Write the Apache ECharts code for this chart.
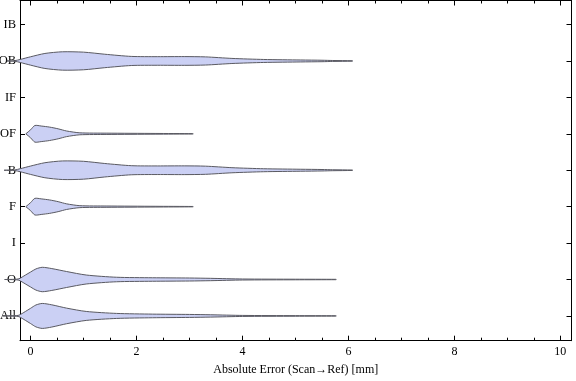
<!DOCTYPE html>
<html><head><meta charset="utf-8">
<script src="https://cdn.jsdelivr.net/npm/echarts@6/dist/echarts.min.js"></script>
<style>html,body{margin:0;padding:0;background:#fff}#c{width:576px;height:381px}</style>
</head><body><div id="c"></div>
<script>
// categories bottom -> top
const categories = ['All','O','I','F','B','OF','IF','OB','IB'];
// violin profiles: [x value, half-width in category units]
const violinAll = [[-0.52,0],[-0.3,0.006],[-0.22,0.02],[-0.1,0.12],[0.0,0.21],[0.1,0.3],[0.22,0.343],[0.4,0.305],[0.68,0.214],[1.05,0.123],[1.62,0.069],[2.3,0.05],[3.0,0.041],[3.4,0.032],[4.0,0.014],[5.0,0.008],[5.76,0.005],[5.77,0]];
const violinO   = [[-0.49,0],[-0.3,0.006],[-0.22,0.02],[-0.1,0.12],[0.0,0.206],[0.1,0.29],[0.22,0.335],[0.4,0.30],[0.68,0.219],[1.05,0.123],[1.62,0.062],[2.3,0.048],[3.0,0.041],[3.4,0.032],[4.0,0.014],[5.0,0.008],[5.76,0.005],[5.77,0]];
const violinI   = [];
const violinF   = [[-0.09,0],[0.0,0.11],[0.08,0.228],[0.2,0.214],[0.36,0.184],[0.52,0.137],[0.68,0.077],[0.93,0.027],[1.44,0.018],[2.35,0.01],[3.06,0.005],[3.07,0]];
const violinB   = [[-0.5,0],[-0.3,0.008],[-0.2,0.04],[0.0,0.115],[0.27,0.206],[0.6,0.255],[1.0,0.245],[1.4,0.185],[1.9,0.125],[2.4,0.118],[2.9,0.12],[3.3,0.112],[3.8,0.07],[4.4,0.041],[5.1,0.027],[5.5,0.02],[5.7,0.013],[6.07,0.006],[6.08,0]];
const violinOF  = [[-0.09,0],[0.0,0.11],[0.08,0.228],[0.2,0.214],[0.36,0.184],[0.52,0.137],[0.68,0.077],[0.93,0.027],[1.44,0.018],[2.35,0.01],[3.06,0.005],[3.07,0]];
const violinIF  = [];
const violinOB  = [[-0.45,0],[-0.3,0.008],[-0.2,0.04],[0.0,0.115],[0.27,0.206],[0.6,0.252],[1.0,0.242],[1.4,0.185],[1.9,0.125],[2.4,0.118],[2.9,0.12],[3.3,0.112],[3.8,0.07],[4.4,0.041],[5.1,0.027],[5.5,0.02],[5.7,0.013],[6.07,0.006],[6.08,0]];
const violinIB  = [];
const profiles = [violinAll, violinO, violinI, violinF, violinB, violinOF, violinIF, violinOB, violinIB];

const xMajorTicks = [0,2,4,6,8,10];
const xMinorTicks = [0.5,1,1.5,2.5,3,3.5,4.5,5,5.5,6.5,7,7.5,8.5,9,9.5];
const yTicks = [0,1,2,3,4,5,6,7,8];

const font = 'Liberation Serif';
const chart = echarts.init(document.getElementById('c'), null, {renderer:'canvas'});

function xAxisDef(pos, ticks, len, labels, name, showLine) {
  return {
    type:'value', position:pos, min:-0.2, max:10.21,
    axisLine:{show:showLine, onZero:false, lineStyle:{color:'#000', width:1}},
    axisTick:{show:true, inside:true, length:len, customValues:ticks, lineStyle:{color:'#000', width:1}},
    axisLabel:{show:labels, customValues:ticks, color:'#000', fontFamily:font, fontSize:12, margin:5},
    splitLine:{show:false},
    name:name, nameLocation:'middle', nameGap:23,
    nameTextStyle:{color:'#000', fontFamily:font, fontSize:12}
  };
}
function yAxisDef(pos, labels) {
  return {
    type:'value', position:pos, min:-0.68, max:8.66,
    axisLine:{show:true, onZero:false, lineStyle:{color:'#000', width:1}},
    axisTick:{show:true, inside:true, length:5, customValues:yTicks, lineStyle:{color:'#000', width:1}},
    axisLabel:{show:labels, customValues:yTicks, color:'#000', fontFamily:font, fontSize:12.5, margin:4,
      formatter:function(v){ return categories[Math.round(v)] || ''; }},
    splitLine:{show:false}
  };
}

chart.setOption({
  animation:false,
  backgroundColor:'#fff',
  grid:{left:20, right:4.5, top:0.5, bottom:40.3, containLabel:false, outerBoundsMode:'none'},
  xAxis:[
    xAxisDef('bottom', xMajorTicks, 5, true, 'Absolute Error (Scan\u2192Ref) [mm]', true),
    xAxisDef('bottom', xMinorTicks, 3, false, '', false),
    xAxisDef('top', xMajorTicks, 5, false, '', true),
    xAxisDef('top', xMinorTicks, 3, false, '', false)
  ],
  yAxis:[ yAxisDef('left', true), yAxisDef('right', false) ],
  series:[{
    type:'custom',
    xAxisIndex:0, yAxisIndex:0,
    clip:false,
    data: categories.map(function(c,i){ return [i]; }),
    renderItem:function(params, api){
      const ci = api.value(0);
      const prof = profiles[ci];
      if (!prof || !prof.length) return null;
      const pts = [];
      for (let k=0;k<prof.length;k++) pts.push(api.coord([prof[k][0], ci + prof[k][1]]));
      for (let k=prof.length-1;k>=0;k--) pts.push(api.coord([prof[k][0], ci - prof[k][1]]));
      return {type:'polygon', shape:{points:pts, smooth:0.25},
        style:{fill:'#cbd0f4', stroke:'#5a5a62', lineWidth:1}};
    }
  }]
});
</script></body></html>
